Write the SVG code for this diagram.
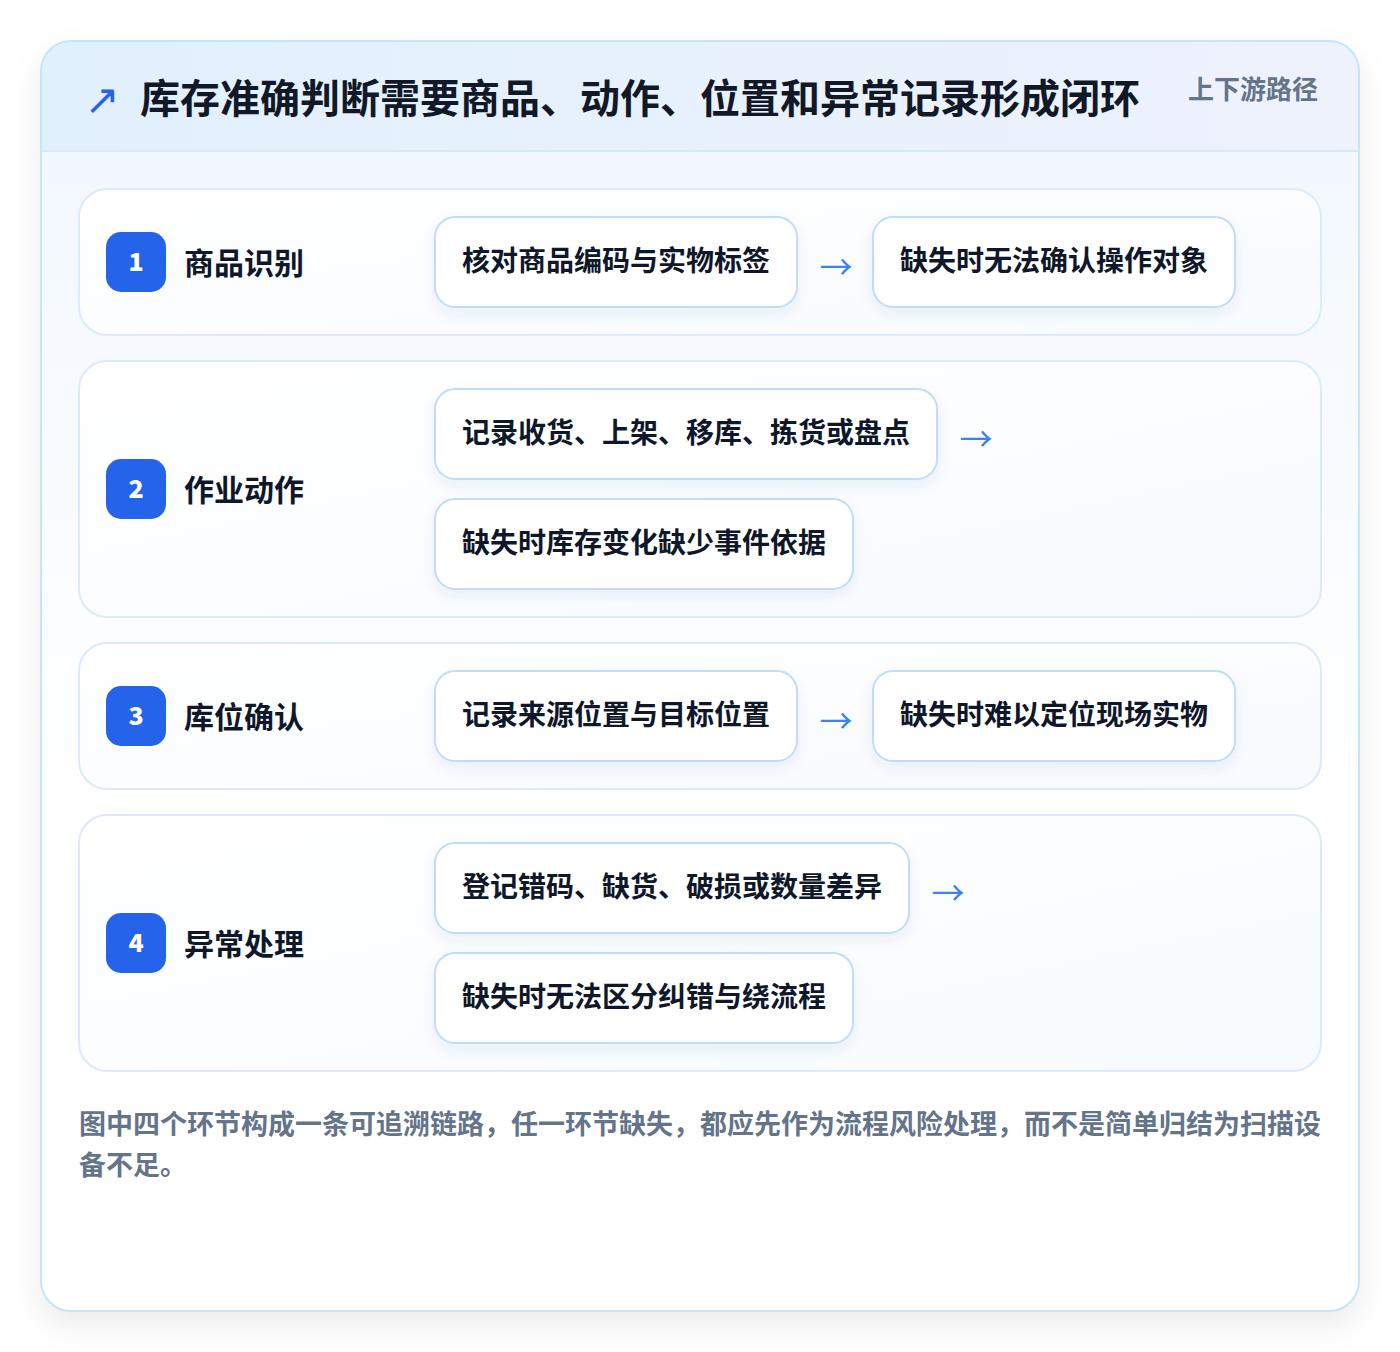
<svg xmlns="http://www.w3.org/2000/svg" width="1400" height="1352" viewBox="0 0 1400 1352">
<defs>
<linearGradient id="hdr" x1="0" y1="0" x2="1" y2="0"><stop offset="0" stop-color="#e1f0fd"/><stop offset="1" stop-color="#eef2fd"/></linearGradient>
<linearGradient id="body" x1="0" y1="0" x2="0" y2="1"><stop offset="0" stop-color="#f0f7ff"/><stop offset="0.6" stop-color="#ffffff"/><stop offset="1" stop-color="#ffffff"/></linearGradient>
<linearGradient id="row" x1="0" y1="0" x2="1" y2="1"><stop offset="0" stop-color="#ffffff"/><stop offset="1" stop-color="#f7fbff"/></linearGradient>
<filter id="sh" x="-10%" y="-10%" width="120%" height="125%"><feDropShadow dx="0" dy="14" stdDeviation="16" flood-color="#0f172a" flood-opacity="0.08"/></filter>
<filter id="bsh" x="-10%" y="-20%" width="120%" height="150%"><feDropShadow dx="0" dy="6" stdDeviation="7" flood-color="#1e3a8a" flood-opacity="0.07"/></filter>
<clipPath id="cardclip"><rect x="41" y="41" width="1318" height="1270" rx="30"/></clipPath>
</defs>
<style>
text{font-family:"Noto Sans CJK SC","Noto Sans",sans-serif;font-weight:700}
.title{font-size:40px;fill:#111827}
.tag{font-size:26px;fill:#64748b}
.rowcard{fill:url(#row);stroke:#dbeafe;stroke-width:2}
.badge{fill:#2563eb}
.num{font-size:25px;fill:#ffffff;text-anchor:middle;font-weight:900}
.lbl{font-size:30px;fill:#0f172a}
.box{fill:#ffffff;stroke:#bfdbfe;stroke-width:2}
.bt{font-size:28px;fill:#0f172a;text-anchor:middle}
.arr{font-size:33px;fill:#3b82f6;text-anchor:middle;font-weight:400}
.foot{font-size:27px;fill:#64748b}
</style>
<rect x="0" y="0" width="1400" height="1352" fill="#ffffff"/>
<g id="card">
<rect x="41" y="41" width="1318" height="1270" rx="30" fill="url(#body)" filter="url(#sh)"/>
<g clip-path="url(#cardclip)">
<rect x="41" y="41" width="1318" height="110" fill="url(#hdr)"/>
<line x1="41" y1="151" x2="1359" y2="151" stroke="#d6e9fb" stroke-width="2"/>
</g>
<rect x="41" y="41" width="1318" height="1270" rx="30" fill="none" stroke="#c5e6f7" stroke-width="2"/>
</g>
<g id="header">
<text x="102" y="114" font-size="42" fill="#2563eb" text-anchor="middle" style="font-weight:400;font-family:'DejaVu Sans',sans-serif">↗</text>
<text class="title" x="140" y="113">库存准确判断需要商品、动作、位置和异常记录形成闭环</text>
<text class="tag" x="1188" y="99">上下游路径</text>
</g>
<g id="row1">
<rect class="rowcard" x="79" y="189" width="1242" height="146" rx="28"/>
<rect class="badge" x="106" y="232" width="60" height="60" rx="15"/>
<text class="num" x="136" y="271">1</text>
<text class="lbl" x="184" y="274">商品识别</text>
</g>
<g id="row1a"><rect class="box" x="435" y="217" width="362" height="90" rx="20" filter="url(#bsh)"/><text class="bt" x="616" y="271">核对商品编码与实物标签</text></g>
<g id="row1b"><rect class="box" x="873" y="217" width="362" height="90" rx="20" filter="url(#bsh)"/><text class="bt" x="1054" y="271">缺失时无法确认操作对象</text></g>
<g id="row2">
<rect class="rowcard" x="79" y="361" width="1242" height="256" rx="28"/>
<rect class="badge" x="106" y="459" width="60" height="60" rx="15"/>
<text class="num" x="136" y="498">2</text>
<text class="lbl" x="184" y="501">作业动作</text>
</g>
<g id="row2a"><rect class="box" x="435" y="389" width="502" height="90" rx="20" filter="url(#bsh)"/><text class="bt" x="686" y="443">记录收货、上架、移库、拣货或盘点</text></g>
<g id="row2b"><rect class="box" x="435" y="499" width="418" height="90" rx="20" filter="url(#bsh)"/><text class="bt" x="644" y="553">缺失时库存变化缺少事件依据</text></g>
<g id="row3">
<rect class="rowcard" x="79" y="643" width="1242" height="146" rx="28"/>
<rect class="badge" x="106" y="686" width="60" height="60" rx="15"/>
<text class="num" x="136" y="725">3</text>
<text class="lbl" x="184" y="728">库位确认</text>
</g>
<g id="row3a"><rect class="box" x="435" y="671" width="362" height="90" rx="20" filter="url(#bsh)"/><text class="bt" x="616" y="725">记录来源位置与目标位置</text></g>
<g id="row3b"><rect class="box" x="873" y="671" width="362" height="90" rx="20" filter="url(#bsh)"/><text class="bt" x="1054" y="725">缺失时难以定位现场实物</text></g>
<g id="row4">
<rect class="rowcard" x="79" y="815" width="1242" height="256" rx="28"/>
<rect class="badge" x="106" y="913" width="60" height="60" rx="15"/>
<text class="num" x="136" y="952">4</text>
<text class="lbl" x="184" y="955">异常处理</text>
</g>
<g id="row4a"><rect class="box" x="435" y="843" width="474" height="90" rx="20" filter="url(#bsh)"/><text class="bt" x="672" y="897">登记错码、缺货、破损或数量差异</text></g>
<g id="row4b"><rect class="box" x="435" y="953" width="418" height="90" rx="20" filter="url(#bsh)"/><text class="bt" x="644" y="1007">缺失时无法区分纠错与绕流程</text></g>
<g id="connectors">
<text class="arr" x="836" y="279">→</text>
<text class="arr" x="976" y="451">→</text>
<text class="arr" x="836" y="733">→</text>
<text class="arr" x="948" y="905">→</text>
</g>
<g id="footer">
<text class="foot" x="79" y="1134">图中四个环节构成一条可追溯链路，任一环节缺失，都应先作为流程风险处理，而不是简单归结为扫描设</text>
<text class="foot" x="79" y="1175">备不足。</text>
</g>
</svg>
